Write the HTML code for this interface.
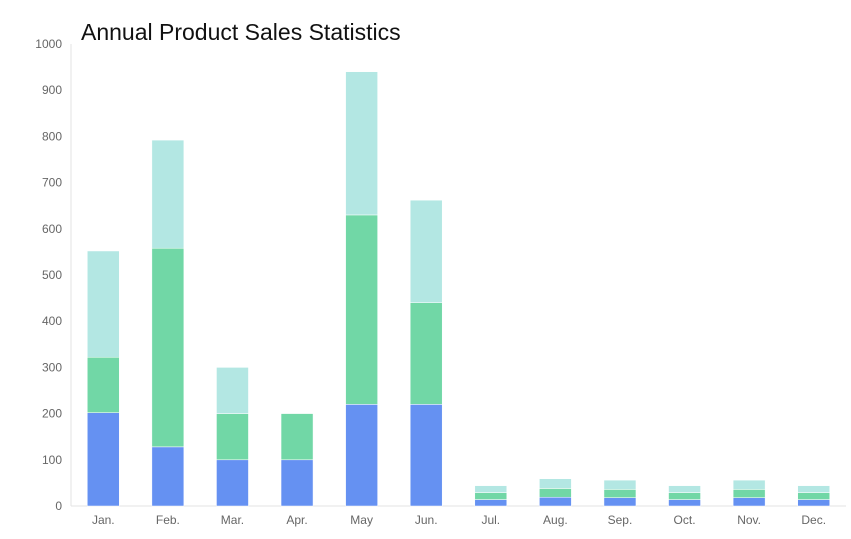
<!DOCTYPE html>
<html><head><meta charset="utf-8"><style>
body{margin:0;background:#fff;font-family:"Liberation Sans",sans-serif;}
svg text{font-family:"Liberation Sans",sans-serif;}
</style></head><body>
<svg id="chart" width="851" height="534" xmlns="http://www.w3.org/2000/svg">
<text x="81" y="40" font-size="23" fill="#111">Annual Product Sales Statistics</text>
<g id="grid"></g><g id="bars"></g><g id="labels"></g>
</svg>
<script>
const categories=["Jan.","Feb.","Mar.","Apr.","May","Jun.","Jul.","Aug.","Sep.","Oct.","Nov.","Dec."];
const seriesA=[202,128,100,100,220,220,14,19,18,14,18,14];
const seriesB=[120,430,100,100,410,220,15,19,18,15,18,15];
const seriesC=[230,234,100,0,310,222,15,21,20,15,20,15];
const yTicks=[0,100,200,300,400,500,600,700,800,900,1000];
const colors=["#6591f2","#71d7a6","#b3e7e3"];
const ns="http://www.w3.org/2000/svg";
const x0=71,x1=846,y0=506,y1=44,ymax=1000;
const step=(x1-x0)/categories.length;
const yS=v=>y0-(v/ymax)*(y0-y1);
const xC=i=>x0+step*(i+0.5);
function mk(t,a,p){const e=document.createElementNS(ns,t);for(const k in a)e.setAttribute(k,a[k]);p.appendChild(e);return e;}
const grid=document.getElementById('grid'),bars=document.getElementById('bars'),labels=document.getElementById('labels');
let ax=mk('line',{x1:x0,x2:x0,y1:y1,y2:y0,stroke:'#e3e3e3'},grid);


let bx=mk('line',{x1:x0,x2:x1,y1:y0,y2:y0,stroke:'#e3e3e3'},grid);


yTicks.forEach(v=>{const t=mk('text',{x:62,y:yS(v)+4,'text-anchor':'end','font-size':12,fill:'#666'},labels);t.textContent=v;

});
categories.forEach((c,i)=>{
 const t=mk('text',{x:xC(i),y:524,'text-anchor':'middle','font-size':12,fill:'#666'},labels);t.textContent=c;
 
 
 let base=0;
 [seriesA,seriesB,seriesC].forEach((s,k)=>{
  const v=s[i];if(v<=0)return;
  const r=mk('rect',{x:xC(i)-16,width:32,y:yS(base+v),height:yS(base)-yS(base+v),fill:colors[k],stroke:'#fff','stroke-width':0.5},bars);
  
  
  base+=v;
 });
});
</script>
</body></html>
